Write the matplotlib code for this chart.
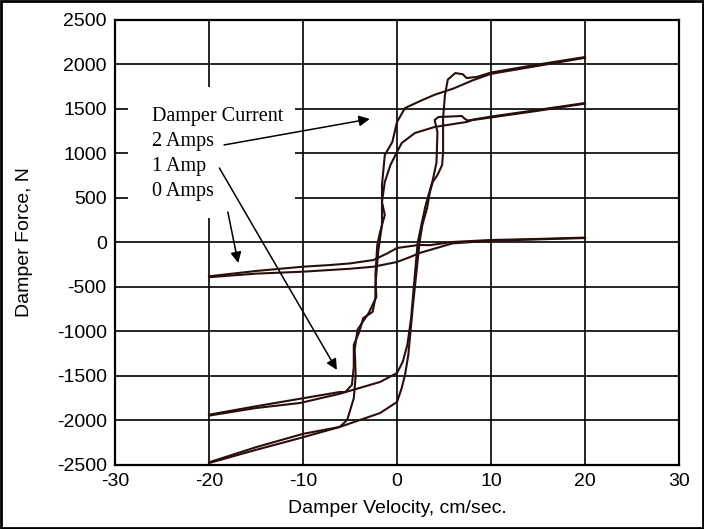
"""
MR damper force vs velocity - hysteresis loops at 0, 1 and 2 amps
"""
import matplotlib
matplotlib.use('Agg')
import matplotlib.pyplot as plt
import matplotlib.patches as mpatches

plt.rcParams['axes.unicode_minus'] = False

# 2 Amp loop (velocity cm/sec, force N)
amp2_up_v = [-20, -15, -10.3, -6.1, -1.8, 0, 0.5, 0.85, 1.2, 1.4, 1.7, 2.0, 2.4, 2.7, 3.2, 3.5,
             3.8, 4.3, 4.8, 4.9, 4.9, 5.1, 5.4, 6.2, 7.0, 7.4, 8.5, 10, 15, 20]
amp2_up_f = [-2478, -2330, -2197, -2073, -1916, -1792, -1635, -1489, -1264, -1039, -700, -400, 6, 197,
             388, 568, 680, 758, 871, 1017, 1399, 1657, 1830, 1904, 1890, 1848, 1860, 1910, 2000, 2084]
amp2_down_v = [20, 15, 10, 8, 6, 4, 2.7, 0.85, 0, -0.5, -1.3, -1.6, -1.6, -1.3, -1.8, -2.1, -2.3,
               -2.2, -3.0, -4.2, -4.5, -4.4, -4.6, -5.3, -6.1, -10, -15, -20]
amp2_down_f = [2075, 1985, 1895, 1820, 1730, 1660, 1601, 1511, 1354, 1129, 983, 646, 455, 309, 118,
               -28, -365, -612, -790, -980, -1200, -1500, -1750, -1994, -2073, -2150, -2300, -2470]

# 1 Amp loop
amp1_up_v = [-20, -15, -10.3, -6.1, -1.8, 0, 0.6, 1.1, 1.5, 1.8, 2.2, 3.0, 3.8, 4.2, 4.3, 4.0, 4.4,
             6.9, 7.1, 7.5, 10, 15, 20]
amp1_up_f = [-1945, -1860, -1803, -1700, -1567, -1466, -1343, -1150, -850, -480, 0, 400, 700, 900,
             1241, 1376, 1410, 1421, 1399, 1370, 1415, 1490, 1567]
amp1_down_v = [20, 15, 10, 8, 7.4, 4.0, 1.9, 0.5, 0, -0.7, -1.3, -1.6, -1.6, -2.0, -2.3, -2.3, -2.6,
               -3.6, -4.0, -4.6, -4.6, -4.8, -5.5, -6.1, -10, -15, -20]
amp1_down_f = [1560, 1480, 1405, 1375, 1354, 1298, 1230, 1118, 1017, 871, 680, 455, 200, -100, -478,
               -624, -780, -850, -1000, -1150, -1400, -1600, -1680, -1680, -1750, -1840, -1935]

# 0 Amp loop
amp0_up_v = [-20, -15, -10, -5, -2.5, 0, 1.4, 2.4, 3.5, 5.9, 10, 15, 20]
amp0_up_f = [-390, -350, -328, -295, -272, -219, -163, -118, -84, -10, 20, 35, 50]
amp0_down_v = [20, 15, 10, 5.9, 3.5, 2.3, 0, -1, -2.5, -5, -7.1, -10, -15, -20]
amp0_down_f = [55, 40, 28, 6, -30, -28, -62, -120, -197, -235, -253, -272, -320, -380]

x_ticks = [-30, -20, -10, 0, 10, 20, 30]
y_ticks = list(range(-2500, 2501, 500))

legend_lines = ['Damper Current', '2 Amps', '1 Amp', '0 Amps']

LINE_COLOR = '#2a0e0e'


def main():
    fig = plt.figure(figsize=(7.04, 5.29), dpi=100)
    ax = fig.add_axes([0.1634, 0.121, 0.8011, 0.8412])

    for v, f in [(amp2_up_v, amp2_up_f), (amp2_down_v, amp2_down_f),
                 (amp1_up_v, amp1_up_f), (amp1_down_v, amp1_down_f),
                 (amp0_up_v, amp0_up_f), (amp0_down_v, amp0_down_f)]:
        ax.plot(v, f, color=LINE_COLOR, linewidth=1.5, zorder=3)

    ax.set_xlim(-30, 30)
    ax.set_ylim(-2500, 2500)
    ax.set_xticks(x_ticks)
    ax.set_yticks(y_ticks)
    ax.tick_params(length=0, labelsize=14, pad=6)
    for lbl in ax.get_xticklabels() + ax.get_yticklabels():
        lbl.set_family('Liberation Sans')

    ax.grid(True, color='black', linewidth=1.2)
    ax.set_axisbelow(True)
    for sp in ax.spines.values():
        sp.set_linewidth(1.6)

    ax.set_xlabel('Damper Velocity, cm/sec.', fontsize=14, family='Liberation Sans', labelpad=7)
    ax.set_ylabel('Damper Force, N', fontsize=14, family='Liberation Sans', labelpad=17)

    # white box behind the annotation text (hides the grid)
    ax.add_patch(mpatches.Rectangle((-28.6, 275), 17.75, 1475, facecolor='white',
                                    edgecolor='none', zorder=1.5))

    for i, txt in enumerate(legend_lines):
        ax.text(-26.1, 1420 - i * 282, txt, fontsize=14.5, family='Liberation Serif',
                va='center', ha='left', zorder=4)

    arrow = dict(arrowstyle='-|>', color='black', lw=1.1, mutation_scale=16,
                 shrinkA=0, shrinkB=0)
    ax.annotate('', xy=(-2.9, 1388), xytext=(-18.4, 1096), arrowprops=arrow, zorder=4)
    ax.annotate('', xy=(-6.4, -1432), xytext=(-18.9, 837), arrowprops=arrow, zorder=4)
    ax.annotate('', xy=(-16.9, -230), xytext=(-18.0, 343), arrowprops=arrow, zorder=4)

    # outer frame around the figure
    fig.patches.append(mpatches.Rectangle((0.002, 0.002), 0.996, 0.996, transform=fig.transFigure,
                                          fill=False, edgecolor='black', linewidth=2))

    fig.savefig('out.png', dpi=100, facecolor='white')
    plt.close(fig)


if __name__ == "__main__":
    main()
